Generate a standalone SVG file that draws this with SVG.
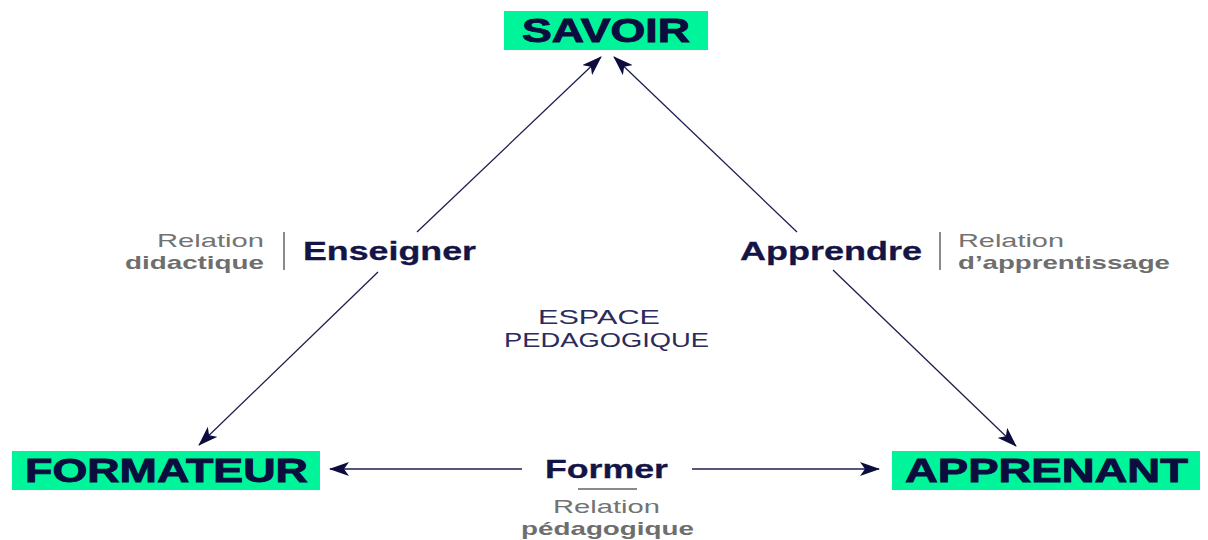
<svg xmlns="http://www.w3.org/2000/svg" width="1208" height="540" viewBox="0 0 1208 540">
<style>
.box{fill:#00f59b}
.node{font-family:"Liberation Sans",Arial,sans-serif;font-weight:bold;fill:#0c0c3e;stroke:#0c0c3e;stroke-width:0.9;font-size:34px}
.verb{font-family:"Liberation Sans",Arial,sans-serif;font-weight:bold;fill:#141446;stroke:#141446;stroke-width:0.3;font-size:26px}
.rel{font-family:"Liberation Sans",Arial,sans-serif;fill:#737373;font-size:19px}
.relb{font-family:"Liberation Sans",Arial,sans-serif;font-weight:bold;fill:#6e6e6e;font-size:19px}
.esp{font-family:"Liberation Sans",Arial,sans-serif;fill:#2b2b5c;font-size:21px}
.con{stroke:#1e1e50;stroke-width:1.3;fill:none;marker-end:url(#ah)}
.sep{stroke:#8a8a8a;stroke-width:2}
</style>
<defs>
<marker id="ah" viewBox="0 0 20 14" refX="19" refY="7" markerWidth="20" markerHeight="14" markerUnits="userSpaceOnUse" orient="auto">
<path d="M0,0 L20,7 L0,14 L5,7 Z" fill="#0c0c3e"/>
</marker>
</defs>
<rect width="1208" height="540" fill="#ffffff"/>
<g id="connectors">
<line class="con" x1="417" y1="232" x2="601" y2="57"/>
<line class="con" x1="378" y1="272" x2="199" y2="445"/>
<line class="con" x1="797" y1="232" x2="614" y2="57"/>
<line class="con" x1="833" y1="270" x2="1016" y2="446"/>
<line class="con" x1="522" y1="469" x2="330" y2="469"/>
<line class="con" x1="692" y1="469" x2="879" y2="469"/>
</g>
<g id="savoir">
<rect class="box" x="504" y="11" width="204" height="39"/>
<text class="node" x="522" y="42" textLength="168" lengthAdjust="spacingAndGlyphs">SAVOIR</text>
</g>
<g id="formateur">
<rect class="box" x="12" y="451" width="308" height="39"/>
<text class="node" x="25" y="482" textLength="283" lengthAdjust="spacingAndGlyphs">FORMATEUR</text>
</g>
<g id="apprenant">
<rect class="box" x="892" y="451" width="308" height="39"/>
<text class="node" x="905" y="482" textLength="283" lengthAdjust="spacingAndGlyphs">APPRENANT</text>
</g>
<g id="label-enseigner">
<text class="rel" x="264" y="247" text-anchor="end" textLength="107" lengthAdjust="spacingAndGlyphs">Relation</text>
<text class="relb" x="264" y="269" text-anchor="end" textLength="139" lengthAdjust="spacingAndGlyphs">didactique</text>
<line class="sep" x1="284" y1="232" x2="284" y2="270"/>
<text class="verb" x="303" y="260" textLength="173" lengthAdjust="spacingAndGlyphs">Enseigner</text>
</g>
<g id="label-apprendre">
<text class="verb" x="740" y="260" textLength="182" lengthAdjust="spacingAndGlyphs">Apprendre</text>
<line class="sep" x1="940" y1="232" x2="940" y2="270"/>
<text class="rel" x="958" y="247" textLength="106" lengthAdjust="spacingAndGlyphs">Relation</text>
<text class="relb" x="958" y="269" textLength="212" lengthAdjust="spacingAndGlyphs">d’apprentissage</text>
</g>
<g id="label-former">
<text class="verb" x="545" y="478" textLength="123" lengthAdjust="spacingAndGlyphs">Former</text>
<line class="sep" x1="578" y1="489" x2="637" y2="489"/>
<text class="rel" x="553" y="513" textLength="107" lengthAdjust="spacingAndGlyphs">Relation</text>
<text class="relb" x="521" y="535" textLength="173" lengthAdjust="spacingAndGlyphs">pédagogique</text>
</g>
<g id="espace">
<text class="esp" x="538" y="324" textLength="122" lengthAdjust="spacingAndGlyphs">ESPACE</text>
<text class="esp" x="504" y="347" textLength="205" lengthAdjust="spacingAndGlyphs">PEDAGOGIQUE</text>
</g>
</svg>
